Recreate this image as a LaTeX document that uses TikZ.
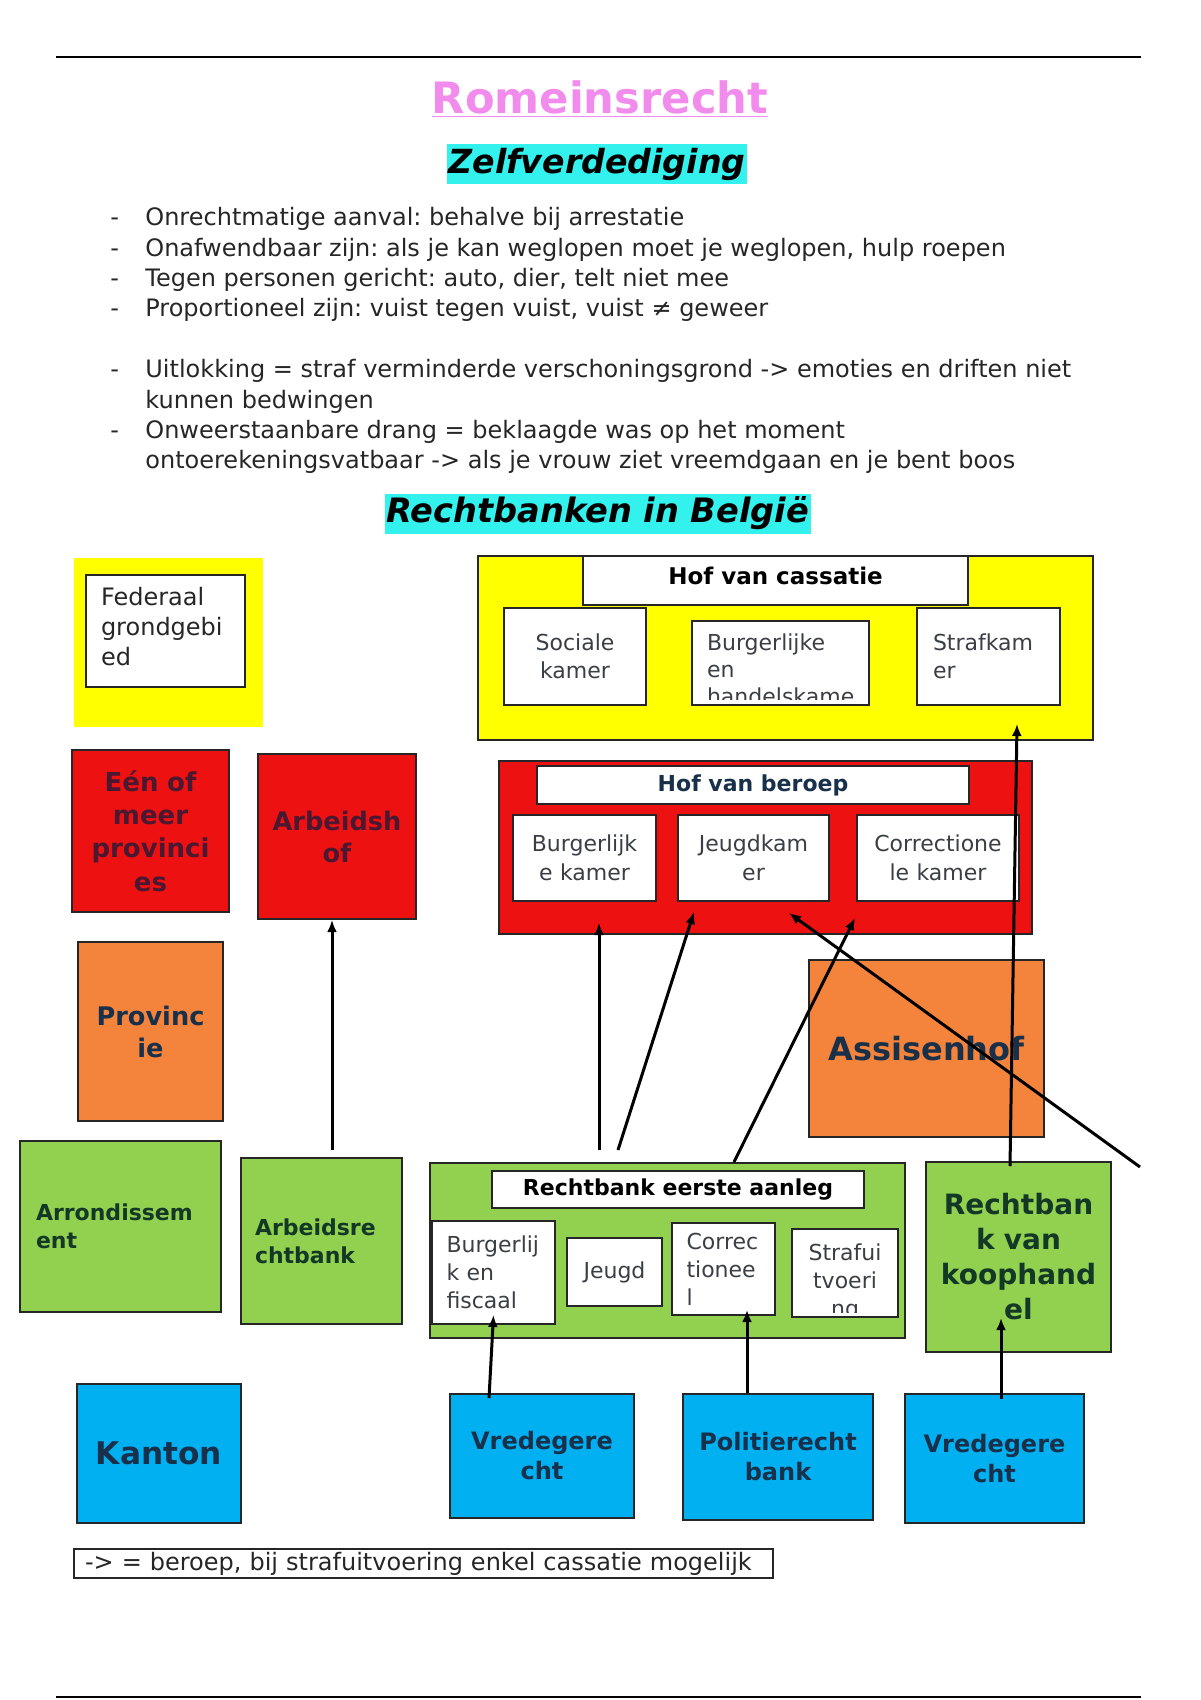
\documentclass[tikz,border=0pt]{standalone}
\usepackage{fontspec}
\setmainfont{DejaVu Sans}
\usetikzlibrary{arrows.meta}
\definecolor{courtyellow}{HTML}{FFFF00}
\definecolor{courtred}{HTML}{EE1111}
\definecolor{courtorange}{HTML}{F4843C}
\definecolor{courtgreen}{HTML}{92D050}
\definecolor{courtblue}{HTML}{00B0F0}
\definecolor{markcyan}{HTML}{33F2EE}
\definecolor{titlepink}{HTML}{F28CEC}
\definecolor{inkmaroon}{HTML}{4A1830}
\definecolor{inknavy}{HTML}{18304A}
\definecolor{inkgreen}{HTML}{143826}
\definecolor{inkgray}{HTML}{3A3F45}
\frenchspacing
\begin{document}
\begin{tikzpicture}[x=0.5pt, y=-0.5pt,
  box/.style={draw=black!85, rectangle, line width=1pt, inner sep=0pt, align=center},
  wbox/.style={box, fill=white, text=inkgray, font=\fontsize{11}{14}\selectfont},
  titlebox/.style={box, fill=white, text=black, font=\bfseries\fontsize{11}{14}\selectfont},
  redbox/.style={box, fill=courtred, text=inkmaroon, font=\bfseries\fontsize{13}{16.7}\selectfont},
  orangebox/.style={box, fill=courtorange, text=inknavy, font=\bfseries\fontsize{12.8}{16}\selectfont},
  greenbox/.style={box, fill=courtgreen, text=inkgreen, font=\bfseries\fontsize{11}{14}\selectfont},
  bluebox/.style={box, fill=courtblue, text=inknavy, font=\bfseries\fontsize{12}{15}\selectfont},
  marker/.style={fill=markcyan, inner xsep=1pt, inner ysep=0pt, minimum height=20pt, font=\bfseries\itshape\fontsize{16.8}{20}\selectfont},
  appeal/.style={-{Latex[length=6pt,width=5pt]}, line width=1.5pt}
]
\useasboundingbox (0,0) rectangle (1200,1700);
\draw[line width=1pt] (56,57) -- (1141,57);
\draw[line width=1pt] (56,1697) -- (1141,1697);
\node[text=titlepink, font=\bfseries\fontsize{21.6}{24}\selectfont, inner sep=0pt] (title) at (600,99) {\underline{Romeinsrecht}};
\node[marker, font=\bfseries\itshape\fontsize{16.6}{20}\selectfont] (zelf) at (597,164) {Zelfverdediging};
\node[anchor=north west, inner sep=0pt, text=black!85, font=\fontsize{12}{15.2}\selectfont] (rules) at (110,204) {%
\begin{tabular}{@{}p{17.5pt}@{}l@{}}
- & Onrechtmatige aanval: behalve bij arrestatie\\
- & Onafwendbaar zijn: als je kan weglopen moet je weglopen, hulp roepen\\
- & Tegen personen gericht: auto, dier, telt niet mee\\
- & Proportioneel zijn: vuist tegen vuist, vuist ≠ geweer\\
 & \\
- & Uitlokking = straf verminderde verschoningsgrond -> emoties en driften niet\\
 & kunnen bedwingen\\
- & Onweerstaanbare drang = beklaagde was op het moment\\
 & ontoerekeningsvatbaar -> als je vrouw ziet vreemdgaan en je bent boos
\end{tabular}};
\node[marker] (belgie) at (598,513.5) {Rechtbanken in België};
\node[box, draw=none, fill=courtyellow, minimum width=94.5pt, minimum height=84.5pt] (fedzone) at (168.5,642.5) {};
\node[wbox, text=black!85, font=\fontsize{12}{15}\selectfont, align=left, minimum width=79.5pt, minimum height=56pt, text width=64.5pt] (federaal) at (165.5,631) {Federaal\\grondgebi\\ed\vspace{4pt}};
\node[box, fill=courtyellow, minimum width=307.5pt, minimum height=92pt] (cassatie) at (785.5,648) {};
\node[titlebox, font=\bfseries\fontsize{11.5}{14}\selectfont, text depth=5pt, minimum width=192.5pt, minimum height=24.5pt] (cassatietitle) at (775.5,580.5) {Hof van cassatie};
\node[wbox, minimum width=71pt, minimum height=48.5pt, text width=64pt] (sociale) at (575,656.5) {Sociale\\kamer};
\node[wbox, minimum width=88.5pt, minimum height=42pt] (burgcas) at (780.5,663) {};
\begin{scope}
\clip (burgcas.north west) rectangle ([yshift=3.5pt]burgcas.south east);
\node[wbox, draw=none, fill=none, align=left, text width=73.5pt, font=\fontsize{11}{13.5}\selectfont] (burgcastext) at (780.5,669) {Burgerlijke\\en\\handelskame};
\end{scope}
\node[wbox, align=left, minimum width=71.5pt, minimum height=48.5pt, text width=55.5pt] (strafkamer) at (988.5,656.5) {Strafkam\\er};
\node[redbox, minimum width=78.5pt, minimum height=81pt, text width=72pt] (provincies) at (150.5,831) {Eén of\\meer\\provinci\\es};
\node[redbox, font=\bfseries\fontsize{12.8}{16}\selectfont, minimum width=79pt, minimum height=82.5pt, text width=73pt] (arbhof) at (337,836.5) {Arbeidsh\\of};
\node[box, fill=courtred, minimum width=266.5pt, minimum height=86.5pt] (beroep) at (765.5,847.5) {};
\node[titlebox, text=inknavy, minimum width=216pt, minimum height=19pt] (beroeptitle) at (753,785) {Hof van beroep};
\node[wbox, font=\fontsize{11}{14.5}\selectfont, minimum width=71.5pt, minimum height=43pt, text width=66pt] (burgkamer) at (584.5,858) {Burgerlijk\\e kamer};
\node[wbox, font=\fontsize{11}{14.5}\selectfont, minimum width=75.5pt, minimum height=43pt, text width=70pt] (jeugdkamer) at (753.5,858) {Jeugdkam\\er};
\node[wbox, font=\fontsize{11}{14.5}\selectfont, minimum width=81pt, minimum height=43pt, text width=76pt] (correckamer) at (938,858) {Correctione\\le kamer};
\node[orangebox, minimum width=72.5pt, minimum height=89.5pt, text width=68pt] (provincie) at (150.5,1031.5) {Provinc\\ie};
\node[orangebox, font=\bfseries\fontsize{16}{19}\selectfont, minimum width=117.5pt, minimum height=88.5pt, text width=112pt] (assisen) at (926.5,1048.5) {Assisenhof};
\node[greenbox, align=left, minimum width=100.5pt, minimum height=85.5pt, text width=84.5pt] (arrond) at (120.5,1226.5) {Arrondissem\\ent};
\node[greenbox, align=left, minimum width=80.5pt, minimum height=83pt, text width=66.5pt] (arbrb) at (321.5,1241) {Arbeidsre\\chtbank};
\node[box, fill=courtgreen, minimum width=237.5pt, minimum height=87.5pt] (eerste) at (667.5,1250.5) {};
\node[titlebox, minimum width=186pt, minimum height=18.5pt] (eerstetitle) at (678,1189.5) {Rechtbank eerste aanleg};
\node[wbox, align=left, minimum width=61.5pt, minimum height=51.5pt, text width=47pt] (burgfis) at (493.5,1272.5) {Burgerlij\\k en\\fiscaal};
\node[wbox, minimum width=47.5pt, minimum height=34pt, text width=44pt] (jeugd) at (614.5,1272) {Jeugd};
\node[wbox, align=left, minimum width=51.5pt, minimum height=46pt, text width=37pt] (correc) at (723.5,1269) {Correc\\tionee\\l};
\node[wbox, minimum width=53pt, minimum height=44pt] (strafuit) at (845,1273) {};
\begin{scope}
\clip (strafuit.north west) rectangle ([yshift=3pt]strafuit.south east);
\node[wbox, draw=none, fill=none, text width=50pt] (strafuittext) at (845,1282) {Strafui\\tvoeri\\ng};
\end{scope}
\node[greenbox, font=\bfseries\fontsize{14}{17.5}\selectfont, minimum width=92.5pt, minimum height=95pt, text width=88pt] (koophandel) at (1018.5,1257) {Rechtban\\k van\\koophand\\el};
\node[bluebox, font=\bfseries\fontsize{15.6}{18}\selectfont, minimum width=82pt, minimum height=69.5pt, text width=78pt] (kanton) at (159,1453.5) {Kanton};
\node[bluebox, minimum width=92pt, minimum height=62pt, text width=86pt] (vrede1) at (542,1456) {Vredegere\\cht};
\node[bluebox, minimum width=95pt, minimum height=63pt, text width=90pt] (politie) at (778,1457) {Politierecht\\bank};
\node[bluebox, minimum width=89.5pt, minimum height=64.5pt, text width=84pt] (vrede2) at (994.5,1458.5) {Vredegere\\cht};
\node[box, fill=white, text=black!85, align=left, font=\fontsize{12}{14}\selectfont, minimum width=349.5pt, minimum height=14.5pt, text width=338.5pt] (legend) at (423.5,1563.5) {-> = beroep, bij strafuitvoering enkel cassatie mogelijk};
\coordinate (loose) at (1140,1167);
\draw[appeal] ([xshift=5.25pt,yshift=3.5pt]arbrb.north) -- ([xshift=-2.5pt]arbhof.south);
\draw[appeal] ([xshift=-34.25pt,yshift=6pt]eerste.north) -- ([xshift=-83.25pt,yshift=6pt]beroep.south);
\draw[appeal] ([xshift=-24.75pt,yshift=6pt]eerste.north) -- ([xshift=-35.75pt,yshift=11.5pt]beroep.south);
\draw[appeal] ([xshift=33.25pt]eerste.north) -- ([xshift=44.75pt,yshift=8.5pt]beroep.south);
\draw[appeal] (loose) -- ([xshift=11.75pt,yshift=11pt]beroep.south);
\draw[appeal] ([xshift=-4.25pt,yshift=-2.5pt]koophandel.north) -- ([xshift=115.75pt,yshift=8.5pt]cassatie.south);
\draw[appeal] ([xshift=-26.5pt,yshift=-2.5pt]vrede1.north) -- ([yshift=5pt]burgfis.south);
\draw[appeal] ([xshift=-15.5pt]politie.north) -- ([xshift=11.75pt,yshift=3pt]correc.south);
\draw[appeal] ([xshift=3.25pt,yshift=-3pt]vrede2.north) -- ([xshift=-8.75pt,yshift=17.5pt]koophandel.south);
\end{tikzpicture}
\end{document}
